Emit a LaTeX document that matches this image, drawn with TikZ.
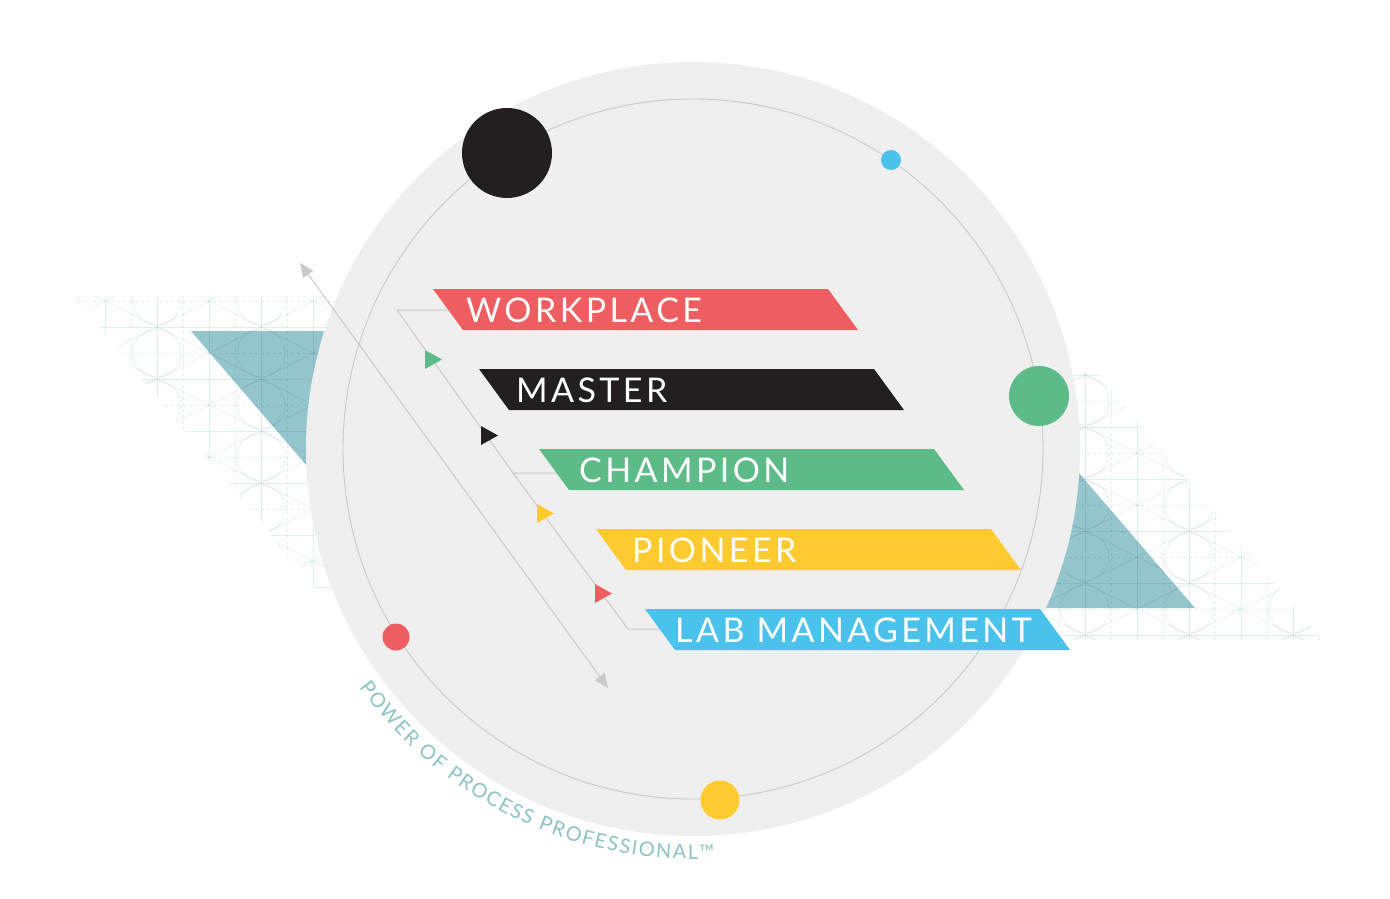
\documentclass[tikz,border=0pt]{standalone}
\usepackage{fontspec}
\setmainfont{Lato}
\newfontfamily\bannerfont{Lato}[LetterSpace=10]
\newfontfamily\arcfont{Lato}
\usetikzlibrary{arrows.meta,decorations.text}

\definecolor{wpred}{HTML}{EE5D5F}
\definecolor{msblack}{HTML}{231F20}
\definecolor{chgreen}{HTML}{5CBB86}
\definecolor{pnyellow}{HTML}{FDCA30}
\definecolor{lmblue}{HTML}{4BC2EB}
\definecolor{disc}{HTML}{EFEFEF}
\definecolor{linegray}{HTML}{C9C9C9}
\definecolor{tealtri}{HTML}{95C5CD}
\definecolor{gridcol}{HTML}{E3EEF0}
\definecolor{arcteal}{HTML}{8EC3C4}

\tikzset{
  gridsolid/.style={draw=gridcol, line width=0.6pt},
  griddash/.style={draw=gridcol, line width=0.6pt, dash pattern=on 3pt off 3pt},
}

% faint construction grid behind the teal triangles
\newcommand{\gridpatch}[2]{%
  \foreach \i in {-2,...,9} {
    \draw[gridsolid] ({#1+52*\i},{#2+60}) -- ++(0,-460);
    \draw[griddash] ({#1+26+52*\i},{#2+60}) -- ++(0,-460);
  }
  \foreach \j in {-2,...,8} {
    \draw[gridsolid] ({#1-120},{#2-26-52*\j}) -- ++(640,0);
    \draw[griddash] ({#1-120},{#2-52*\j}) -- ++(640,0);
  }
  \foreach \j in {-8,...,14} {
    \draw[gridsolid] ({#1-120},{#2-52*\j+60}) -- ++(640,-320);
    \draw[gridsolid] ({#1-120},{#2-52*\j-60}) -- ++(640,320);
  }
  \foreach \i in {-1,...,4} {
    \foreach \j in {-2,...,8} {
      \draw[gridsolid] ({#1+52+104*\i},{#2-52*\j}) circle[radius=24];
    }
  }
}

\begin{document}
\begin{tikzpicture}[x=1pt,y=1pt,
  banner/.style={anchor=base west, text=white, inner sep=0pt,
    font=\bannerfont\fontsize{34}{40}\selectfont},
  dot/.style={circle, inner sep=0pt, draw=none},
  link/.style={draw=linegray, line width=1pt},
  orbit/.style={draw=linegray, line width=0.9pt}]

	\useasboundingbox[fill=white] (0,0) rectangle (1390,-899);

	% teal triangles
	\fill[tealtri] (191,-331) -- (460,-331) -- (460,-644) -- cycle;
	\fill[tealtri] (1195,-608) -- (930,-608) -- (930,-300) -- cycle;

	% grid patches
	\begin{scope}[blend mode=multiply]
		\clip (73,-296) -- (430,-296) -- (430,-590) -- (316,-590) -- cycle;
		\gridpatch{105}{-301}
	\end{scope}
	\begin{scope}[blend mode=multiply]
		\clip (1000,-373) -- (1097,-373) -- (1322,-640) -- (1000,-640) -- cycle;
		\gridpatch{1033}{-349}
	\end{scope}

	% disc and orbit
	\coordinate (c) at (693,-449);
	\fill[disc] (c) circle[radius=387];
	\draw[orbit] (c) circle[radius=350];

	\node[dot, fill=msblack, minimum size=90pt] (blackdot) at (507,-153) {};
	\node[dot, fill=lmblue, minimum size=20pt] (bluedot) at (891,-160) {};
	\node[dot, fill=chgreen, minimum size=60pt] (greendot) at (1039,-396) {};
	\node[dot, fill=wpred, minimum size=27pt] (reddot) at (396,-637) {};
	\node[dot, fill=pnyellow, minimum size=39pt] (yellowdot) at (720,-800) {};

	% long double arrow
	\coordinate (arrtop) at (300,-263);
	\coordinate (arrbot) at (608,-688);
	\draw[link, {Triangle[length=14pt,width=12pt,fill=linegray]}-{Triangle[length=14pt,width=12pt,fill=linegray]}] (arrtop) -- (arrbot);

	% connectors
	\coordinate (k1) at (397,-310);
	\coordinate (k2) at (513,-473);
	\coordinate (k3) at (628,-629);
	\coordinate (wpin) at (450,-310);
	\coordinate (chin) at (558,-473);
	\coordinate (lmin) at (662,-629);
	\draw[link] (wpin) -- (k1) -- (k2) -- (chin);
	\draw[link] (k2) -- (k3) -- (lmin);

	% markers
	\fill[chgreen] (425,-350) -- ++(17,-9.5) -- ++(-17,-9.5) -- cycle;
	\fill[msblack] (481,-426) -- ++(17,-9.5) -- ++(-17,-9.5) -- cycle;
	\fill[pnyellow] (537,-504) -- ++(17,-9.5) -- ++(-17,-9.5) -- cycle;
	\fill[wpred] (595,-584) -- ++(17,-9.5) -- ++(-17,-9.5) -- cycle;

	% banners
	\fill[wpred] (433,-289) -- ++(395,0) -- ++(30,-41) -- ++(-395,0) -- cycle;
	\fill[msblack] (479,-369) -- ++(395,0) -- ++(30,-41) -- ++(-395,0) -- cycle;
	\fill[chgreen] (539,-449) -- ++(395,0) -- ++(30,-41) -- ++(-395,0) -- cycle;
	\fill[pnyellow] (596,-529) -- ++(395,0) -- ++(30,-41) -- ++(-395,0) -- cycle;
	\fill[lmblue] (645,-609) -- ++(395,0) -- ++(30,-41) -- ++(-395,0) -- cycle;

	\node[banner] (workplace) at (466,-322) {WORKPLACE};
	\node[banner] (master) at (516,-402) {MASTER};
	\node[banner] (champion) at (579,-482) {CHAMPION};
	\node[banner] (pioneer) at (632,-562) {PIONEER};
	\node[banner] (labmgmt) at (675,-642) {LAB MANAGEMENT};

	% arc caption
	\path[decorate, decoration={text along path, text align=fit to path,
	  text color=arcteal,
	  text={|\arcfont\fontsize{20}{22}\selectfont|POWER OF PROCESS PROFESSIONAL™}}]
	  ([shift={(215.5:410)}]c) arc[start angle=215.5, end angle=273, radius=410];

\end{tikzpicture}
\end{document}
